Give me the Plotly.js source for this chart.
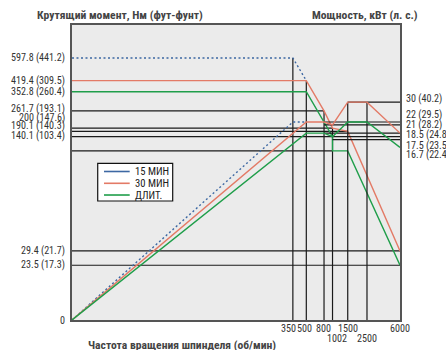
<!DOCTYPE html>
<html><head><meta charset="utf-8">
<script src="https://cdn.plot.ly/plotly-3.0.1.min.js"></script>
<style>html,body{margin:0;padding:0;background:#fff}#chart{width:446px;height:350px}</style>
</head><body><div id="chart"></div>
<script>
// ---- data ----
const rpmTicks = [350, 500, 800, 1002, 1500, 2500, 6000];
const rpmTickRow = [0, 0, 0, 1, 0, 1, 0];

const torque15X = [0, 350, 500];
const torque15Y = [597.8, 597.8, 419.4];
const power15X = [0, 350, 500];
const power15Y = [0, 22, 22];

const torque30X = [0, 500, 800, 1002, 1500, 6000];
const torque30Y = [419.4, 419.4, 261.7, 200, 190.1, 29.4];
const power30X = [0, 500, 800, 1002, 1500, 2500, 6000];
const power30Y = [0, 22, 22, 21, 30, 30, 18.5];

const torqueContX = [0, 500, 1002, 1002, 1500, 6000];
const torqueContY = [352.8, 352.8, 175, 140.1, 140.1, 23.5];
const powerContX = [0, 500, 800, 1002, 1500, 2500, 6000];
const powerContY = [0, 18.5, 18.5, 17.5, 22, 22, 14.8];

const torqueLabelVals = [597.8, 419.4, 352.8, 261.7, 200, 190.1, 140.1, 29.4, 23.5, 0];
const torqueLabelText = ['597.8 (441.2)', '419.4 (309.5)', '352.8 (260.4)', '261.7 (193.1)', '200 (147.6)', '190.1 (140.3)', '140.1 (103.4)', '29.4 (21.7)', '23.5 (17.3)', '0'];
const powerLabelVals = [30, 22, 21, 18.5, 17.5, 16.7];
const powerLabelText = ['30 (40.2)', '22 (29.5)', '21 (28.2)', '18.5 (24.8)', '17.5 (23.5)', '16.7 (22.4)'];

// guide lines
const vGuideRpm = [350, 500, 800, 1002, 1500, 2500];
const vGuideTop = [597.8, 419.4, 261.7, 200, 30, 30];
const vGuideAxis = ['y', 'y', 'y', 'y', 'y2', 'y2'];
const hTorqueVals = [261.7, 200, 190.1, 140.1, 29.4, 23.5];
const hTorqueTo = [800, 1002, 1500, 1002, 6000, 6000];
const hPowerVals = [30, 22, 21, 18.5, 17.5, 16.7];
const hPowerFrom = [1500, 800, 800, 800, 0, 1002];

const seriesNames = ['15 МИН', '30 МИН', 'ДЛИТ.'];
const seriesColors = ['#3d68a3', '#e37a66', '#1f9e4a'];

// ---- font selection (prefer a narrow face, fit widths to the reference) ----
const cv = document.createElement('canvas').getContext('2d');
const meas = (f, t) => { cv.font = f; return cv.measureText(t).width; };
const hasFont = f => ['monospace', 'serif'].some(b =>
  Math.abs(meas(`20px "${f}", ${b}`, 'abcdefghijk 0123456789 МИН') - meas(`20px ${b}`, 'abcdefghijk 0123456789 МИН')) > 0.5);
const narrow = ['Liberation Sans Narrow', 'Roboto Condensed', 'Arial Narrow', 'Nimbus Sans Narrow', 'Open Sans Condensed'].find(hasFont);
const FAM = narrow || 'Liberation Sans';
const FONT = `"${FAM}", "Liberation Sans", Arial, sans-serif`;
const LBL = Math.min(11.5, 11 * 54 / meas(`11px "${FAM}"`, '597.8 (441.2)'));
const TTL = Math.min(12.5, 12 * 166 / meas(`bold 12px "${FAM}"`, 'Крутящий момент, Нм (фут-фунт)'));

// ---- scales: axis floor stands for "0" on the log axes ----
const X_FLOOR = 1, T_FLOOR = 10, P_FLOOR = 1, X_MAX = 6000;
const fx = a => a.map(v => v <= 0 ? X_FLOOR : v);
const ft = a => a.map(v => v <= 0 ? T_FLOOR : v);
const fp = a => a.map(v => v <= 0 ? P_FLOOR : v);

const guide = {color: '#1a1a1a', width: 1.2};
const traces = [];
vGuideRpm.forEach((r, i) => {
  const isT = vGuideAxis[i] === 'y';
  traces.push({x: [r, r], y: isT ? [T_FLOOR, vGuideTop[i]] : [P_FLOOR, vGuideTop[i]], yaxis: vGuideAxis[i],
    mode: 'lines', line: guide, showlegend: false, hoverinfo: 'skip'});
});
hTorqueVals.forEach((v, i) => traces.push({x: fx([0, hTorqueTo[i]]), y: [v, v], yaxis: 'y',
  mode: 'lines', line: guide, showlegend: false, hoverinfo: 'skip'}));
hPowerVals.forEach((v, i) => traces.push({x: fx([hPowerFrom[i], X_MAX]), y: [v, v], yaxis: 'y2',
  mode: 'lines', line: guide, showlegend: false, hoverinfo: 'skip'}));

const curves = [
  [torque15X, torque15Y, power15X, power15Y, '2px,2.5px'],
  [torque30X, torque30Y, power30X, power30Y, 'solid'],
  [torqueContX, torqueContY, powerContX, powerContY, 'solid']
];
curves.forEach((c, i) => {
  traces.push({x: fx(c[0]), y: ft(c[1]), yaxis: 'y', mode: 'lines', showlegend: false,
    line: {color: seriesColors[i], width: 1.4, dash: c[4]}});
  traces.push({x: fx(c[2]), y: fp(c[3]), yaxis: 'y2', mode: 'lines', showlegend: false,
    line: {color: seriesColors[i], width: 1.4, dash: c[4]}});
});

// ---- annotations ----
const ann = [];
const tShift = {'261.7': 2, '200': 10, '190.1': 5, '140.1': 15};
torqueLabelVals.forEach((v, i) => ann.push({xref: 'paper', x: 0, xanchor: 'right', xshift: -5,
  yref: 'y', y: Math.log10(v <= 0 ? T_FLOOR : v), yanchor: 'middle', yshift: tShift[String(v)] || 0,
  text: torqueLabelText[i], showarrow: false, font: {size: LBL, color: '#333'}}));
const pShift = {'30': 3.5, '22': 7, '21': 0, '18.5': -2, '17.5': -9, '16.7': -15};
powerLabelVals.forEach((v, i) => ann.push({xref: 'paper', x: 1, xanchor: 'left', xshift: 4,
  yref: 'y2', y: Math.log10(v), yanchor: 'middle', yshift: pShift[String(v)] || 0,
  text: powerLabelText[i], showarrow: false, font: {size: LBL, color: '#333'}}));
const rpmXShift = {'350': -4.5, '500': -2, '800': -1, '1002': 4};
rpmTicks.forEach((r, i) => ann.push({xref: 'x', x: Math.log10(r), xanchor: 'center', xshift: rpmXShift[String(r)] || 0,
  yref: 'paper', y: 0, yanchor: 'top', yshift: rpmTickRow[i] ? -11 : -1,
  text: String(r), showarrow: false, font: {size: LBL, color: '#333'}}));
ann.push({xref: 'paper', yref: 'paper', x: 0.146, y: 1.034, xanchor: 'center', yanchor: 'middle',
  text: '<b>Крутящий момент, Нм (фут-фунт)</b>', showarrow: false, font: {size: TTL, color: '#444'}});
ann.push({xref: 'paper', yref: 'paper', x: 0.892, y: 1.034, xanchor: 'center', yanchor: 'middle',
  text: '<b>Мощность, кВт (л. с.)</b>', showarrow: false, font: {size: TTL, color: '#444'}});
ann.push({xref: 'paper', yref: 'paper', x: 0.334, y: -0.085, xanchor: 'center', yanchor: 'middle',
  text: '<b>Частота вращения шпинделя (об/мин)</b>', showarrow: false, font: {size: TTL, color: '#444'}});

// ---- legend box ----
const legBox = {x0: 0.0784, x1: 0.307, y0: 0.4034, y1: 0.5312};
const legRowY = [0.5034, 0.4634, 0.4237];
const shapes = [{type: 'rect', xref: 'paper', yref: 'paper', x0: legBox.x0, x1: legBox.x1, y0: legBox.y0, y1: legBox.y1,
  fillcolor: '#fff', line: {color: '#111', width: 1.2}}];
seriesNames.forEach((n, i) => {
  shapes.push({type: 'line', xref: 'paper', yref: 'paper', x0: 0.0976, x1: 0.1759, y0: legRowY[i], y1: legRowY[i],
    line: {color: seriesColors[i], width: 1.6}});
  ann.push({xref: 'paper', yref: 'paper', x: 0.186, y: legRowY[i], xanchor: 'left', yanchor: 'middle',
    text: n, showarrow: false, font: {size: LBL + 0.5, color: '#222'}});
});

const layout = {
  width: 446, height: 350,
  margin: {l: 72, r: 46, t: 25, b: 30},
  paper_bgcolor: '#fff', plot_bgcolor: '#ebebeb',
  font: {family: FONT, size: 11, color: '#333'},
  xaxis: {type: 'log', range: [0, Math.log10(X_MAX)], showgrid: false, zeroline: false,
    showticklabels: false, ticks: '', showline: true, mirror: true, linecolor: '#555', linewidth: 2},
  yaxis: {type: 'log', range: [1, 3], showgrid: false, zeroline: false,
    showticklabels: false, ticks: '', showline: true, mirror: true, linecolor: '#555', linewidth: 2},
  yaxis2: {type: 'log', range: [0, 2], overlaying: 'y', side: 'right', visible: false},
  showlegend: false,
  shapes: shapes,
  annotations: ann
};
Plotly.newPlot('chart', traces, layout, {staticPlot: true, displayModeBar: false});
</script></body></html>
